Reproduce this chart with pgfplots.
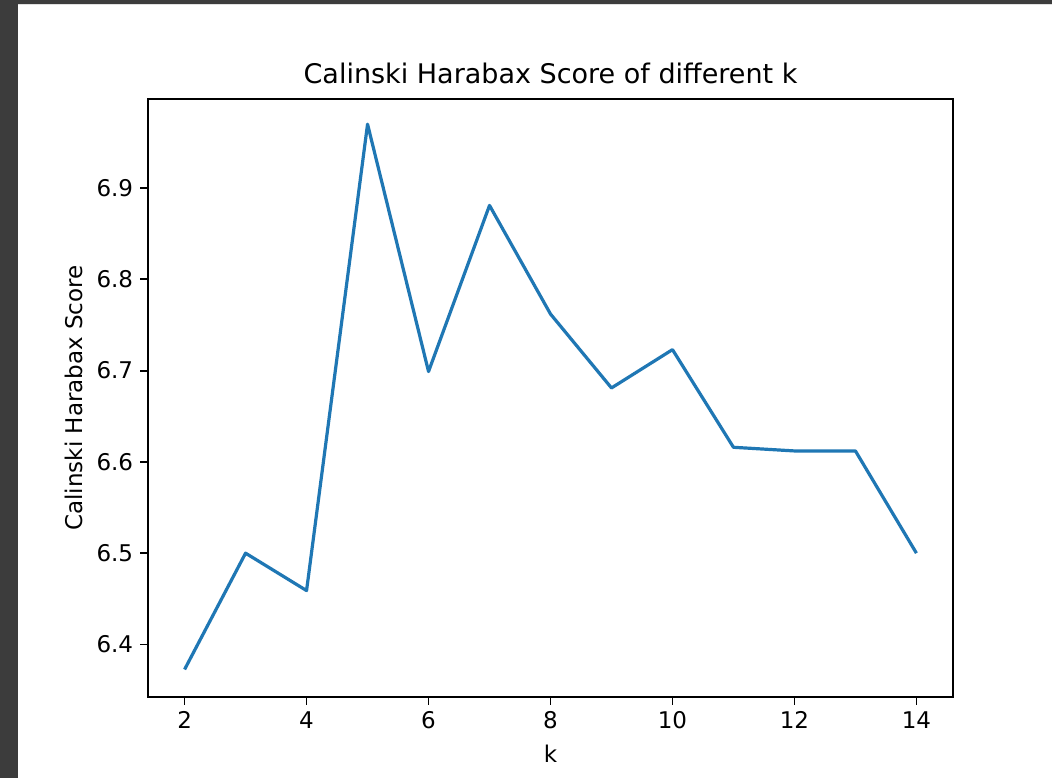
\documentclass[border=0pt]{standalone}
\usepackage{fontspec}
\setmainfont{DejaVu Sans}
\usepackage{pgfplots}
\pgfplotsset{compat=1.18}
\definecolor{mplblue}{HTML}{1F77B4}
\definecolor{frame}{HTML}{3C3C3C}
\begin{document}
\begin{tikzpicture}
\useasboundingbox (0,0) rectangle (526pt,389pt);
\fill[white] (0,0) rectangle (526pt,389pt);
\fill[frame] (0,0) rectangle (9pt,389pt);
\fill[frame] (0,387pt) rectangle (526pt,389pt);
\draw[black!12, line width=0.5pt] (9pt,386.6pt) -- (526pt,386.6pt);
\begin{axis}[
  at={(74pt,40.5pt)}, anchor=south west,
  scale only axis, width=402.5pt, height=299pt,
  xmin=1.4, xmax=14.6, ymin=6.3424, ymax=6.9976,
  xtick={2,4,6,8,10,12,14},
  ytick={6.4,6.5,6.6,6.7,6.8,6.9},
  yticklabel style={/pgf/number format/.cd, fixed, fixed zerofill, precision=1},
  /pgf/number format/assume math mode=true,
  tick align=outside, tick pos=left,
  major tick length=3.9pt,
  every tick/.style={black, line width=0.9pt},
  axis line style={line width=0.9pt},
  ticklabel style={font=\fontsize{11.5pt}{13pt}\selectfont},
  title={Calinski Harabax Score of different k},
  title style={font=\fontsize{13.5pt}{15pt}\selectfont, at={(0.5,1)}, anchor=base, yshift=1.5pt},
  xlabel={k},
  ylabel={Calinski Harabax Score},
  label style={font=\fontsize{11.5pt}{13pt}\selectfont},
  xlabel style={at={(0.5,0)}, anchor=base, yshift=-32.5pt},
  ylabel style={at={(0,0.5)}, anchor=base, rotate=0, yshift=33pt},
]
\addplot[mplblue, line width=1.6pt, line join=round] coordinates {
(2,6.3726) (3,6.500) (4,6.459) (5,6.970) (6,6.699) (7,6.881) (8,6.762)
(9,6.681) (10,6.723) (11,6.616) (12,6.612) (13,6.612) (14,6.500)
};
\end{axis}
\end{tikzpicture}
\end{document}
